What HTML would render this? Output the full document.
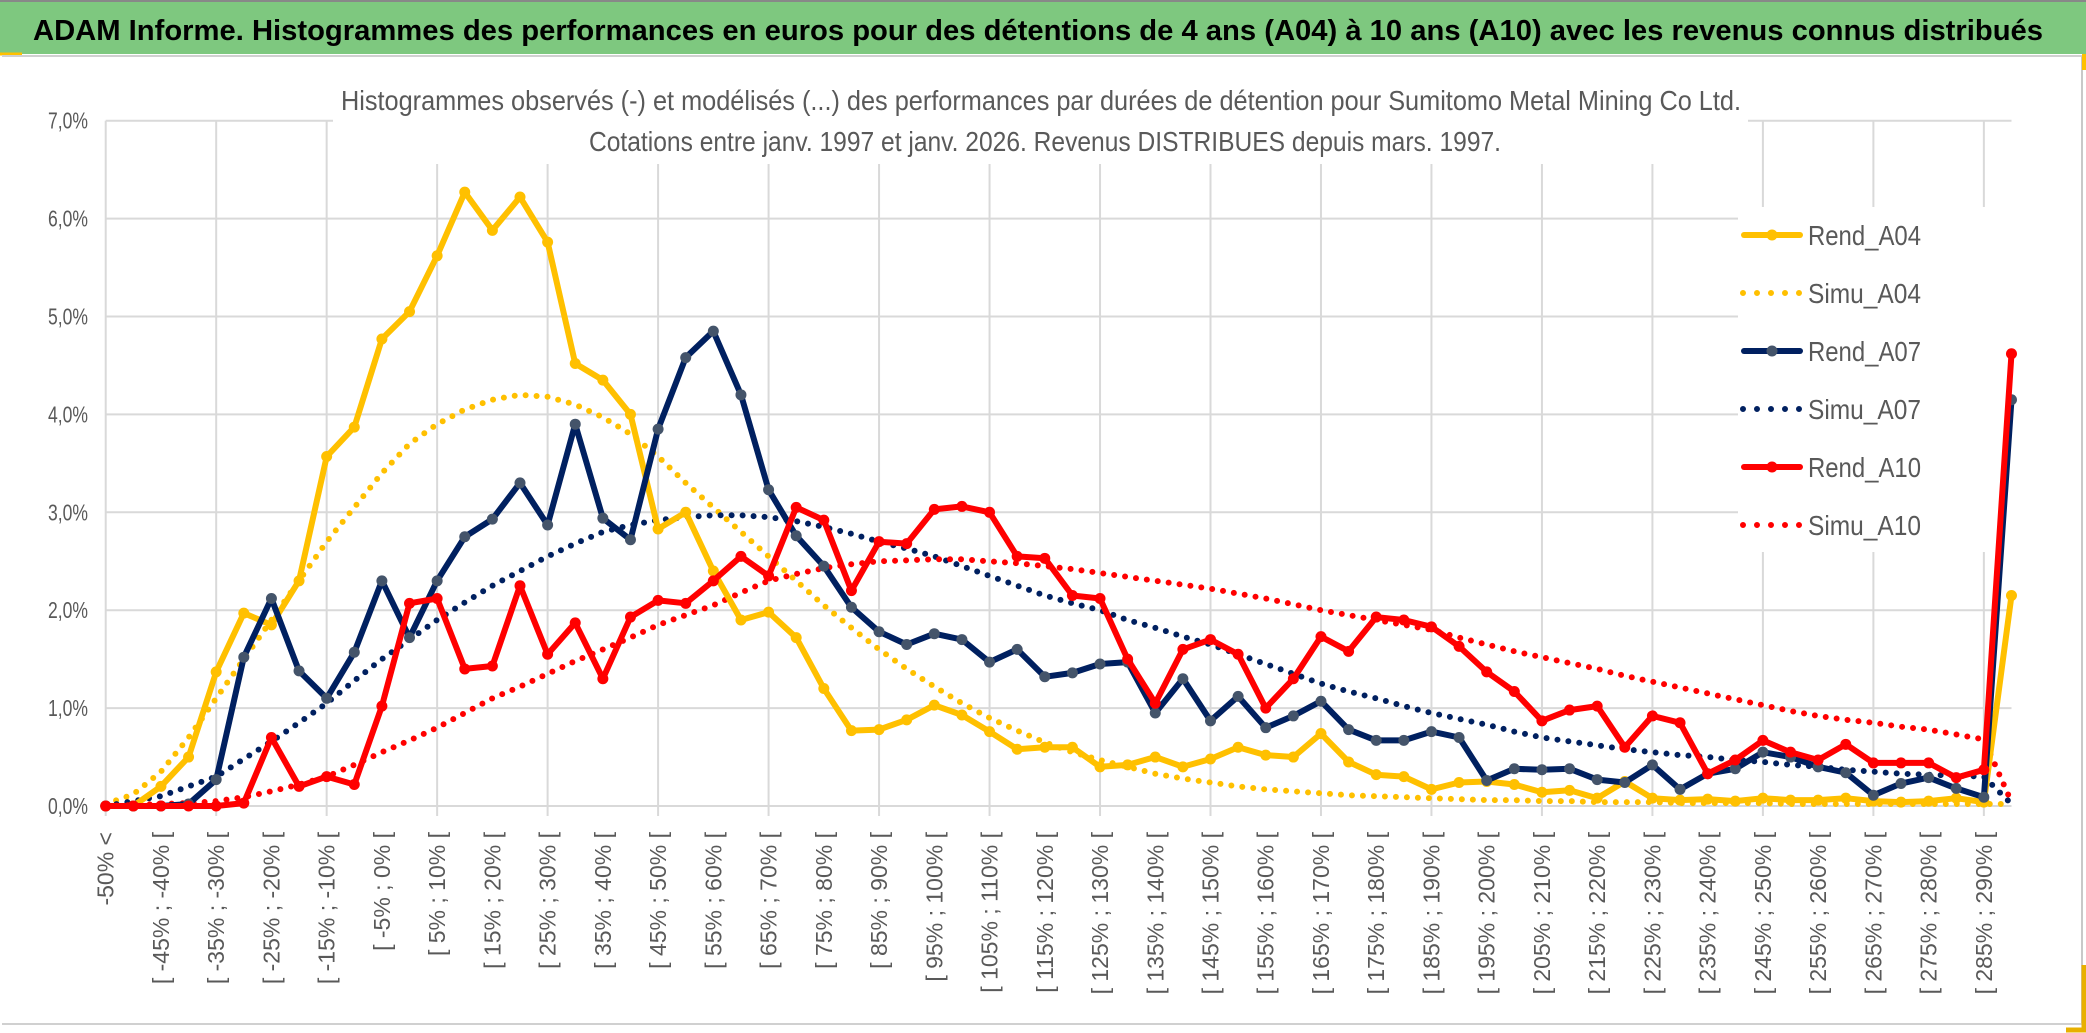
<!DOCTYPE html>
<html><head><meta charset="utf-8">
<style>
html,body{margin:0;padding:0;background:#fff;}
svg{display:block;font-family:"Liberation Sans",sans-serif;}
</style></head>
<body>
<svg id="chart" width="2086" height="1033" viewBox="0 0 2086 1033" xmlns="http://www.w3.org/2000/svg">
<rect x="0" y="0" width="2086" height="1033" fill="#fff"/>
<rect x="0" y="0" width="2086" height="54" fill="#7ec87f"/>
<line x1="0" y1="1" x2="2086" y2="1" stroke="#888" stroke-width="2"/>
<line x1="0" y1="54" x2="22" y2="54" stroke="#ffc000" stroke-width="3"/>
<text x="33" y="40" font-size="29" font-weight="bold" fill="#000" textLength="2010" lengthAdjust="spacingAndGlyphs">ADAM Informe. Histogrammes des performances en euros pour des détentions de 4 ans (A04) à 10 ans (A10) avec les revenus connus distribués</text>
<line x1="2" y1="56" x2="2082" y2="56" stroke="#d0d0d0" stroke-width="2"/>
<line x1="2082" y1="56" x2="2082" y2="1024" stroke="#c8c8c8" stroke-width="2"/>
<line x1="2" y1="1024" x2="2082" y2="1024" stroke="#d0d0d0" stroke-width="2"/>
<line x1="2084" y1="54" x2="2084" y2="70" stroke="#ffc000" stroke-width="4"/>
<path d="M2066 1030 H2084 V965" fill="none" stroke="#e8b000" stroke-width="5"/>
<g id="grid"></g>
<rect x="333" y="80" width="1415" height="84" fill="#fff"/>
<text x="341" y="110" font-size="28" fill="#595959" textLength="1400" lengthAdjust="spacingAndGlyphs">Histogrammes observés (-) et modélisés (...) des performances par durées de détention pour Sumitomo Metal Mining Co Ltd.</text>
<text x="589" y="151" font-size="28" fill="#595959" textLength="912" lengthAdjust="spacingAndGlyphs">Cotations entre janv. 1997 et janv. 2026. Revenus DISTRIBUES depuis mars. 1997.</text>
<g id="ylabels"></g>
<g id="xlabels"></g>
<rect x="1738" y="207" width="274" height="345" fill="#fff"/>
<g id="series"></g>
<g id="legend"></g>
</svg>
<script>
const rendA04 = [0,0,0.2,0.5,1.37,1.97,1.85,2.3,3.57,3.87,4.77,5.05,5.62,6.27,5.88,6.22,5.76,4.52,4.35,4.0,2.83,3.0,2.4,1.9,1.98,1.72,1.2,0.77,0.78,0.88,1.03,0.93,0.76,0.58,0.6,0.6,0.4,0.42,0.5,0.4,0.48,0.6,0.52,0.5,0.74,0.45,0.32,0.3,0.17,0.24,0.25,0.22,0.14,0.16,0.08,0.25,0.08,0.06,0.07,0.05,0.08,0.06,0.06,0.08,0.05,0.04,0.05,0.08,0.04,2.15];
const simuA04 = [0.02,0.12,0.35,0.7,1.1,1.5,1.9,2.3,2.7,3.05,3.4,3.7,3.9,4.05,4.15,4.2,4.18,4.1,3.97,3.8,3.57,3.3,3.05,2.8,2.55,2.3,2.05,1.82,1.6,1.4,1.22,1.05,0.9,0.77,0.65,0.55,0.47,0.4,0.33,0.28,0.24,0.2,0.17,0.15,0.13,0.11,0.1,0.09,0.08,0.07,0.06,0.06,0.05,0.05,0.04,0.04,0.04,0.03,0.03,0.03,0.03,0.02,0.02,0.02,0.02,0.02,0.02,0.02,0.02,0.02];
const rendA07 = [0,0,0,0.02,0.27,1.52,2.12,1.38,1.1,1.57,2.3,1.72,2.3,2.75,2.93,3.3,2.87,3.9,2.94,2.72,3.85,4.58,4.85,4.2,3.23,2.76,2.45,2.03,1.78,1.65,1.76,1.7,1.47,1.6,1.32,1.36,1.45,1.47,0.95,1.3,0.87,1.12,0.8,0.92,1.07,0.78,0.67,0.67,0.76,0.7,0.26,0.38,0.37,0.38,0.27,0.24,0.42,0.17,0.33,0.38,0.55,0.5,0.4,0.34,0.11,0.23,0.29,0.18,0.09,4.15];
const simuA07 = [0.0,0.05,0.1,0.2,0.3,0.48,0.66,0.85,1.05,1.28,1.5,1.7,1.9,2.08,2.25,2.4,2.55,2.68,2.8,2.87,2.92,2.95,2.97,2.97,2.95,2.91,2.85,2.78,2.7,2.63,2.55,2.45,2.35,2.25,2.15,2.07,2.0,1.9,1.82,1.73,1.65,1.55,1.45,1.35,1.25,1.17,1.1,1.02,0.95,0.89,0.83,0.76,0.7,0.66,0.62,0.58,0.55,0.52,0.5,0.47,0.45,0.42,0.4,0.37,0.35,0.33,0.32,0.31,0.3,0.02];
const rendA10 = [0,0,0,0,0,0.03,0.7,0.2,0.3,0.22,1.02,2.07,2.12,1.4,1.43,2.25,1.55,1.87,1.3,1.93,2.1,2.07,2.3,2.55,2.35,3.05,2.92,2.2,2.7,2.68,3.03,3.06,3.0,2.55,2.53,2.15,2.12,1.5,1.05,1.6,1.7,1.55,1.0,1.3,1.73,1.58,1.93,1.9,1.83,1.63,1.37,1.17,0.87,0.98,1.02,0.6,0.92,0.85,0.33,0.47,0.67,0.55,0.47,0.63,0.44,0.44,0.44,0.29,0.37,4.62];
const simuA10 = [0,0.01,0.02,0.03,0.05,0.09,0.15,0.22,0.3,0.42,0.55,0.67,0.8,0.95,1.1,1.22,1.35,1.48,1.6,1.72,1.85,1.95,2.05,2.18,2.3,2.37,2.43,2.47,2.5,2.51,2.52,2.52,2.5,2.48,2.45,2.42,2.38,2.34,2.3,2.26,2.22,2.17,2.12,2.06,2.0,1.95,1.9,1.85,1.8,1.72,1.65,1.58,1.52,1.46,1.4,1.33,1.27,1.21,1.15,1.09,1.03,0.97,0.92,0.88,0.85,0.81,0.78,0.73,0.68,0.04];
const yTicks = [0,1,2,3,4,5,6,7];
const yTickLabels = ["0,0%","1,0%","2,0%","3,0%","4,0%","5,0%","6,0%","7,0%"];
const categories = ["-50% <"];
for (let k = 1; k < 70; k++) { const a = -50 + 5*(k-1); categories.push("[ " + a + "% ; " + (a+5) + "% ["); }

const NS = "http://www.w3.org/2000/svg";
const X0 = 105.7, DX = 27.62, Y0 = 806, DY = 97.9;
function xPos(i){ return X0 + i*DX; }
function yPos(v){ return Y0 - v*DY; }
function mk(tag, attrs, parent){ const e = document.createElementNS(NS, tag); for (const k in attrs) e.setAttribute(k, attrs[k]); parent.appendChild(e); return e; }

const grid = document.getElementById('grid');
yTicks.forEach(t => {
  const l = mk('line', {x1: X0, x2: xPos(categories.length-1), y1: yPos(t), y2: yPos(t), stroke: '#d9d9d9', 'stroke-width': 2}, grid);
  
  
});
for (let i = 0; i < categories.length; i += 4) {
  const l = mk('line', {x1: xPos(i), x2: xPos(i), y1: yPos(7), y2: yPos(0) + 10, stroke: '#d9d9d9', 'stroke-width': 2}, grid);
  
  
}
const yl = document.getElementById('ylabels');
yTicks.forEach((t, k) => {
  const tx = mk('text', {x: 88, y: yPos(t) + 8, 'text-anchor': 'end', 'font-size': 23, fill: '#595959', textLength: 40, lengthAdjust: 'spacingAndGlyphs'}, yl);
  tx.textContent = yTickLabels[k];
  
  
});
const xl = document.getElementById('xlabels');
for (let i = 0; i < categories.length; i += 2) {
  const x = xPos(i) + 8, y = 832;
  const tx = mk('text', {x: x, y: y, 'text-anchor': 'end', 'font-size': 23, fill: '#595959', transform: 'rotate(-90 ' + x + ' ' + y + ')'}, xl);
  tx.textContent = categories[i];
  
  
}
const series = document.getElementById('series');
function pts(arr){ return arr.map((v,i) => xPos(i).toFixed(1) + ',' + yPos(v).toFixed(1)).join(' '); }
function dotted(arr, color, name){
  const p = mk('polyline', {points: pts(arr), fill: 'none', stroke: color, 'stroke-width': 6, 'stroke-linecap': 'round', 'stroke-dasharray': '0 11'}, series);
  
  
}
function solid(arr, color, mfill, name){
  const p = mk('polyline', {points: pts(arr), fill: 'none', stroke: color, 'stroke-width': 6, 'stroke-linejoin': 'round'}, series);
  
  
  arr.forEach((v,i) => {
    const c = mk('circle', {cx: xPos(i), cy: yPos(v), r: 5.5, fill: mfill}, series);
    
    
  });
}
dotted(simuA04, '#ffc000', 'simu-a04-line');
dotted(simuA07, '#002060', 'simu-a07-line');
dotted(simuA10, '#ff0000', 'simu-a10-line');
solid(rendA04, '#ffc000', '#ffc000', 'rend-a04-line');
solid(rendA07, '#002060', '#44546a', 'rend-a07-line');
solid(rendA10, '#ff0000', '#ff0000', 'rend-a10-line');

const legendNames = ["Rend_A04","Simu_A04","Rend_A07","Simu_A07","Rend_A10","Simu_A10"];
const legendColors = ["#ffc000","#ffc000","#002060","#002060","#ff0000","#ff0000"];
const lg = document.getElementById('legend');
legendNames.forEach((n, k) => {
  const y = 235 + k*58;
  const g = mk('g', {}, lg);
  
  
  if (k % 2 === 0) {
    mk('line', {x1: 1744, x2: 1800, y1: y, y2: y, stroke: legendColors[k], 'stroke-width': 6, 'stroke-linecap': 'round'}, g);
    mk('circle', {cx: 1772, cy: y, r: 5.5, fill: k === 2 ? '#44546a' : legendColors[k]}, g);
  } else {
    mk('line', {x1: 1743, x2: 1800, y1: y, y2: y, stroke: legendColors[k], 'stroke-width': 6, 'stroke-linecap': 'round', 'stroke-dasharray': '0 14'}, g);
  }
  const t = mk('text', {x: 1808, y: y + 10, 'font-size': 28, fill: '#595959', textLength: 113, lengthAdjust: 'spacingAndGlyphs'}, g);
  t.textContent = n;
});
</script>
</body></html>
